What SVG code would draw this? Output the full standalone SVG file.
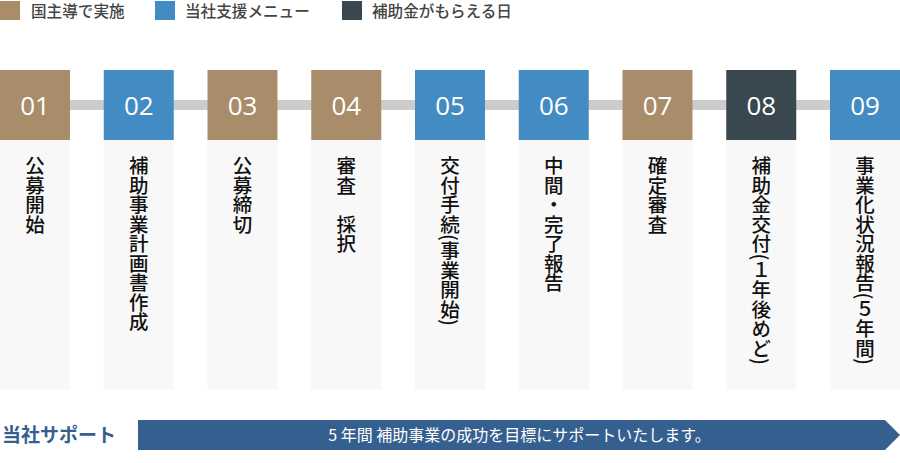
<svg xmlns="http://www.w3.org/2000/svg" width="900" height="463" viewBox="0 0 900 463">
<style>
.leg{font-family:"Noto Sans CJK JP","Noto Sans",sans-serif;font-size:15.6px;fill:#444;font-weight:500}
.num{font-family:"Open Sans","Lato",sans-serif;font-size:26px;fill:#fff;text-anchor:middle}
.col{fill:#f8f8f8}
.vt{font-family:"Noto Sans CJK JP",sans-serif;font-size:19.5px;fill:#111;font-weight:500;writing-mode:vertical-rl}
.brown{fill:#a98c6a}.blue{fill:#438bc3}.dark{fill:#39484f}
</style>
<g id="legend">
<rect x="0" y="1" width="20" height="19" class="brown"/>
<text x="31" y="17" class="leg">国主導で実施</text>
<rect x="155" y="1" width="20" height="19" class="blue"/>
<text x="185" y="17" class="leg">当社支援メニュー</text>
<rect x="342" y="1" width="20" height="19" class="dark"/>
<text x="372" y="17" class="leg">補助金がもらえる日</text>
</g>
<g id="connectors">
<rect x="0" y="100" width="900" height="10" fill="#cccccc"/>
</g>
<g id="step01"><rect x="0" y="140" width="70" height="250" class="col"/><rect x="0" y="70" width="70" height="70" class="brown"/><text x="35" y="115" class="num">01</text><text x="35" y="156" class="vt">公募開始</text></g>
<g id="step02"><rect x="103.75" y="140" width="70" height="250" class="col"/><rect x="103.75" y="70" width="70" height="70" class="blue"/><text x="138.75" y="115" class="num">02</text><text x="138.75" y="156" class="vt">補助事業計画書作成</text></g>
<g id="step03"><rect x="207.5" y="140" width="70" height="250" class="col"/><rect x="207.5" y="70" width="70" height="70" class="brown"/><text x="242.5" y="115" class="num">03</text><text x="242.5" y="156" class="vt">公募締切</text></g>
<g id="step04"><rect x="311.25" y="140" width="70" height="250" class="col"/><rect x="311.25" y="70" width="70" height="70" class="brown"/><text x="346.25" y="115" class="num">04</text><text x="346.25" y="156" class="vt">審査　採択</text></g>
<g id="step05"><rect x="415" y="140" width="70" height="250" class="col"/><rect x="415" y="70" width="70" height="70" class="blue"/><text x="450" y="115" class="num">05</text><text x="450" y="156" class="vt">交付手続(事業開始)</text></g>
<g id="step06"><rect x="518.75" y="140" width="70" height="250" class="col"/><rect x="518.75" y="70" width="70" height="70" class="blue"/><text x="553.75" y="115" class="num">06</text><text x="553.75" y="156" class="vt">中間・完了報告</text></g>
<g id="step07"><rect x="622.5" y="140" width="70" height="250" class="col"/><rect x="622.5" y="70" width="70" height="70" class="brown"/><text x="657.5" y="115" class="num">07</text><text x="657.5" y="156" class="vt">確定審査</text></g>
<g id="step08"><rect x="726.25" y="140" width="70" height="250" class="col"/><rect x="726.25" y="70" width="70" height="70" class="dark"/><text x="761.25" y="115" class="num">08</text><text x="761.25" y="156" class="vt">補助金交付(１年後めど)</text></g>
<g id="step09"><rect x="830" y="140" width="70" height="250" class="col"/><rect x="830" y="70" width="70" height="70" class="blue"/><text x="865" y="115" class="num">09</text><text x="865" y="156" class="vt">事業化状況報告(５年間)</text></g>
<g id="support">
<text x="2" y="442" font-family="Noto Sans CJK JP,sans-serif" font-size="19" font-weight="bold" fill="#355f8f">当社サポート</text>
<polygon points="138,420 885,420 900,435 885,450 138,450" fill="#355f8f"/>
<text x="519.5" y="441" text-anchor="middle" font-family="Noto Sans CJK JP,sans-serif" font-size="16" fill="#fff">5 年間 補助事業の成功を目標にサポートいたします。</text>
</g>
</svg>
